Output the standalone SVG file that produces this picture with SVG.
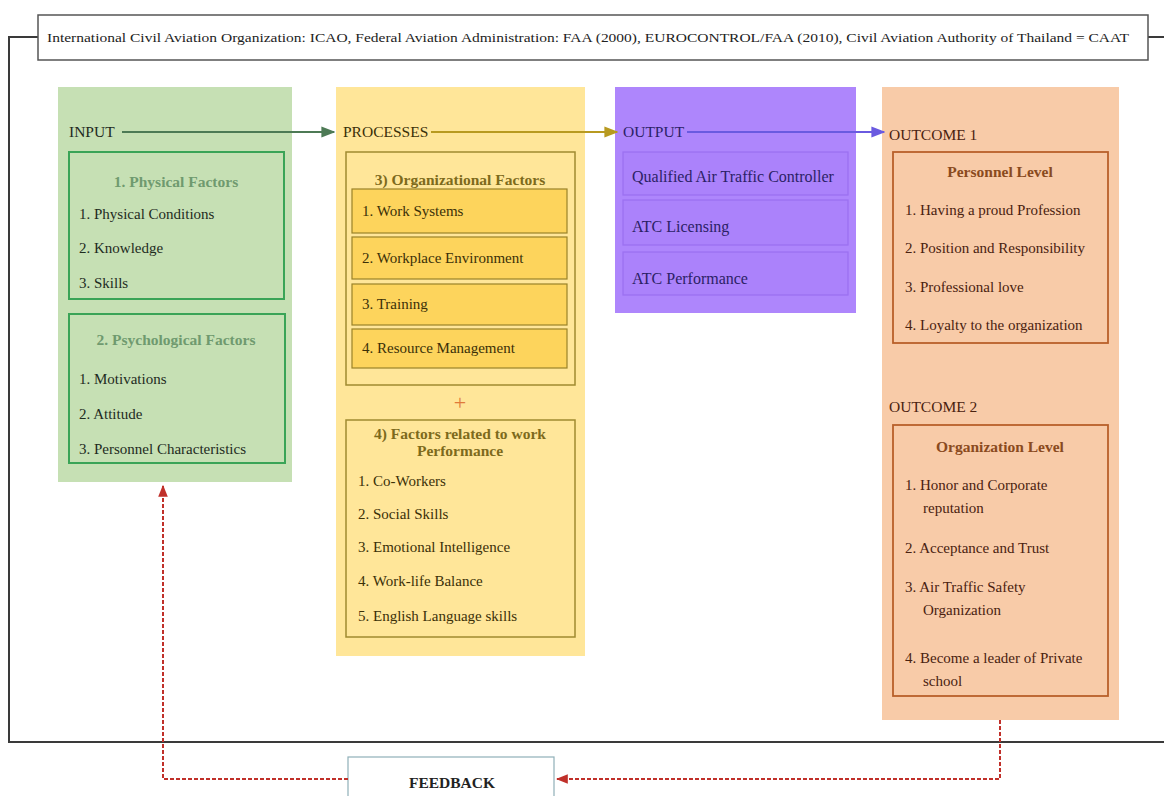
<svg xmlns="http://www.w3.org/2000/svg" width="1164" height="796" viewBox="0 0 1164 796">
<defs>
<style>
text{font-family:"Liberation Serif","Times New Roman",serif;font-size:15px}
.t{font-weight:bold;text-anchor:middle;font-size:15.5px}
.gi{fill:#1e2b1e}.gt{fill:#6f9a6f}
.yi{fill:#3b3008}.yt{fill:#7d6a1c}
.pi{fill:#2b1f66;font-size:16px}
.oi{fill:#4a2210}.ot{fill:#8a4a20}
.hd{font-size:15.5px}
.bn{font-size:13px;fill:#222}
.plus{font-size:22px;fill:#e07a3a;text-anchor:middle}
</style>
<marker id="ag" viewBox="0 0 10 10" refX="9" refY="5" markerWidth="7" markerHeight="7" orient="auto"><path d="M0,1 L10,5 L0,9 z" fill="#4d7a55"/></marker>
<marker id="ay" viewBox="0 0 10 10" refX="9" refY="5" markerWidth="7" markerHeight="7" orient="auto"><path d="M0,1 L10,5 L0,9 z" fill="#b89a20"/></marker>
<marker id="ap" viewBox="0 0 10 10" refX="9" refY="5" markerWidth="7" markerHeight="7" orient="auto"><path d="M0,1 L10,5 L0,9 z" fill="#6a5ae0"/></marker>
<marker id="ar" viewBox="0 0 10 10" refX="9" refY="5" markerWidth="6" markerHeight="6" orient="auto"><path d="M0,1 L10,5 L0,9 z" fill="#c0302a"/></marker>
</defs>
<rect width="1164" height="796" fill="#ffffff"/>

<g id="frame">
<path d="M38,37 H9 V742 H1164" fill="none" stroke="#3a3a3a" stroke-width="2"/>
<path d="M1148,37 H1164" fill="none" stroke="#3a3a3a" stroke-width="2"/>
</g>

<g id="banner">
<rect x="38" y="15" width="1110" height="45" fill="#ffffff" stroke="#555" stroke-width="1.5"/>
<text x="47" y="42" textLength="1082" lengthAdjust="spacingAndGlyphs" class="bn">International Civil Aviation Organization: ICAO, Federal Aviation Administration: FAA (2000), EUROCONTROL/FAA (2010), Civil Aviation Authority of Thailand = CAAT</text>
</g>

<g id="input">
<rect x="58" y="87" width="234" height="395" fill="#c6e0b4"/>
<text x="69" y="137" class="gi hd">INPUT</text>
<rect x="69" y="152" width="215" height="147" fill="none" stroke="#3aa457" stroke-width="2"/>
<text x="176" y="187" class="t gt">1. Physical Factors</text>
<text x="79" y="219" class="gi">1. Physical Conditions</text>
<text x="79" y="253" class="gi">2. Knowledge</text>
<text x="79" y="288" class="gi">3. Skills</text>
<rect x="69" y="314" width="216" height="149" fill="none" stroke="#3aa457" stroke-width="2"/>
<text x="176" y="345" class="t gt">2. Psychological Factors</text>
<text x="79" y="384" class="gi">1. Motivations</text>
<text x="79" y="419" class="gi">2. Attitude</text>
<text x="79" y="454" class="gi">3. Personnel Characteristics</text>
</g>

<g id="processes">
<rect x="336" y="87" width="249" height="569" fill="#ffe699"/>
<text x="343" y="137" class="yi hd">PROCESSES</text>
<rect x="346" y="152" width="229" height="233" fill="none" stroke="#a08a30" stroke-width="1.5"/>
<text x="460" y="185" class="t yt">3) Organizational Factors</text>
<g fill="#fdd45c" stroke="#9a8228" stroke-width="1.2">
<rect x="352" y="189" width="215" height="44"/>
<rect x="352" y="237" width="215" height="42"/>
<rect x="352" y="284" width="215" height="41"/>
<rect x="352" y="329" width="215" height="39"/>
</g>
<text x="362" y="216" class="yi">1. Work Systems</text>
<text x="362" y="263" class="yi">2. Workplace Environment</text>
<text x="362" y="309" class="yi">3. Training</text>
<text x="362" y="353" class="yi">4. Resource Management</text>
<text x="460" y="410" class="plus">+</text>
<rect x="346" y="420" width="229" height="217" fill="none" stroke="#a08a30" stroke-width="1.5"/>
<text x="460" y="439" class="t yt">4) Factors related to work</text>
<text x="460" y="456" class="t yt">Performance</text>
<text x="358" y="486" class="yi">1. Co-Workers</text>
<text x="358" y="519" class="yi">2. Social Skills</text>
<text x="358" y="552" class="yi">3. Emotional Intelligence</text>
<text x="358" y="586" class="yi">4. Work-life Balance</text>
<text x="358" y="621" class="yi">5. English Language skills</text>
</g>

<g id="output">
<rect x="615" y="87" width="241" height="226" fill="#ae86fc"/>
<text x="623" y="137" class="pi hd">OUTPUT</text>
<g fill="#ab82fb" stroke="#9a6ff0" stroke-width="1.2">
<rect x="623" y="152" width="225" height="43"/>
<rect x="623" y="200" width="225" height="45"/>
<rect x="623" y="252" width="225" height="43"/>
</g>
<text x="632" y="182" class="pi">Qualified Air Traffic Controller</text>
<text x="632" y="232" class="pi">ATC Licensing</text>
<text x="632" y="284" class="pi">ATC Performance</text>
</g>

<g id="outcome">
<rect x="882" y="87" width="237" height="633" fill="#f8cba8"/>
<text x="889" y="140" class="oi hd">OUTCOME 1</text>
<rect x="893" y="152" width="215" height="191" fill="none" stroke="#b8602a" stroke-width="1.8"/>
<text x="1000" y="177" class="t ot">Personnel Level</text>
<text x="905" y="215" class="oi">1. Having a proud Profession</text>
<text x="905" y="253" class="oi">2. Position and Responsibility</text>
<text x="905" y="292" class="oi">3. Professional love</text>
<text x="905" y="330" class="oi">4. Loyalty to the organization</text>
<text x="889" y="412" class="oi hd">OUTCOME 2</text>
<rect x="893" y="425" width="215" height="271" fill="none" stroke="#b8602a" stroke-width="1.8"/>
<text x="1000" y="452" class="t ot">Organization Level</text>
<text x="905" y="490" class="oi">1. Honor and Corporate</text>
<text x="923" y="513" class="oi">reputation</text>
<text x="905" y="553" class="oi">2. Acceptance and Trust</text>
<text x="905" y="592" class="oi">3. Air Traffic Safety</text>
<text x="923" y="615" class="oi">Organization</text>
<text x="905" y="663" class="oi">4. Become a leader of Private</text>
<text x="923" y="686" class="oi">school</text>
</g>

<g id="feedback">
<rect x="348" y="757" width="206" height="50" fill="#ffffff" stroke="#8fb0b8" stroke-width="1.2"/>
<text x="452" y="788" class="t" fill="#222">FEEDBACK</text>
</g>

<g id="connectors" fill="none">
<path d="M122,132 H334" stroke="#4d7a55" stroke-width="2" marker-end="url(#ag)"/>
<path d="M431,132 H617" stroke="#b89a20" stroke-width="2" marker-end="url(#ay)"/>
<path d="M687,132 H884" stroke="#6a5ae0" stroke-width="2" marker-end="url(#ap)"/>
<path d="M1000,720 V779 H557" stroke="#c0302a" stroke-width="2" stroke-dasharray="4,2" marker-end="url(#ar)"/>
<path d="M348,779 H163 V486" stroke="#c0302a" stroke-width="2" stroke-dasharray="4,2" marker-end="url(#ar)"/>
</g>
</svg>
